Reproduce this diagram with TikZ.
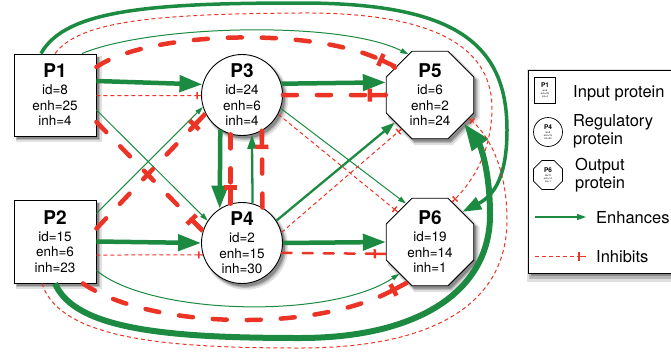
\documentclass[tikz,border=0pt]{standalone}
\usepackage{fontspec}
\setmainfont{TeX Gyre Heros}
\usetikzlibrary{shapes.geometric,arrows.meta,decorations.markings,shadows}
\definecolor{eg}{RGB}{28,138,64}
\definecolor{ir}{RGB}{236,52,38}
\newcommand{\prottitle}[1]{{\fontsize{19}{19}\selectfont\bfseries #1}}
\newcommand{\minititle}[1]{{\fontsize{6.5}{6.5}\selectfont\bfseries #1}}
\tikzset{
  softshadow/.style={drop shadow={shadow xshift=3.5pt,shadow yshift=-4pt,opacity=0.12,fill=black,shadow scale=1.05},
                     drop shadow={shadow xshift=3pt,shadow yshift=-3.5pt,opacity=0.18,fill=black,shadow scale=1.02},
                     drop shadow={shadow xshift=2.5pt,shadow yshift=-3pt,opacity=0.25,fill=black}},
  protbase/.style={draw=black,line width=0.9pt,fill=white,inner sep=0pt,align=center},
  prot/.style={protbase,font=\fontsize{13.5}{15.5}\selectfont,softshadow},
  inp/.style={prot,rectangle,minimum width=82pt,minimum height=82pt},
  reg/.style={prot,circle,minimum size=81pt},
  outp/.style={prot,regular polygon,regular polygon sides=8,minimum size=92pt},
  mini/.style={protbase,line width=0.7pt,font=\fontsize{2.4}{3.2}\selectfont},
  legtxt/.style={inner sep=0pt,font=\fontsize{16.5}{18}\selectfont},
  legbox/.style={draw=black,line width=1pt,fill=white,softshadow},
  teemark/.style n args={4}{postaction={decorate,decoration={markings,
     mark=at position -#1 with {\draw[draw=ir,solid,line cap=butt,line width=#3] (0pt,-#2) -- (0pt,#2);
                                \draw[draw=ir,solid,line cap=butt,line width=#4] (0pt,0pt) -- (#1,0pt);}}}},
  enhA/.style={draw=eg,line width=1pt,-{Triangle[length=8pt,width=5pt]}},
  enhB/.style={draw=eg,line width=2.3pt,-{Triangle[length=14pt,width=9pt]}},
  enhC/.style={draw=eg,line width=3.5pt,-{Triangle[length=19pt,width=13pt]}},
  enhD/.style={draw=eg,line width=4.5pt,-{Triangle[length=23pt,width=16pt]}},
  enhE/.style={draw=eg,line width=6pt,-{Triangle[length=27pt,width=19pt]}},
  inhA/.style={draw=ir,line width=1pt,dash pattern=on 4pt off 3pt,teemark={4pt}{3.5pt}{1.4pt}{1pt}},
  inhB/.style={draw=ir,line width=2.5pt,line cap=round,dash pattern=on 10pt off 11pt,teemark={11pt}{4.5pt}{2.5pt}{2.5pt}},
  inhD/.style={draw=ir,line width=4.5pt,line cap=round,dash pattern=on 14pt off 20pt,teemark={16pt}{6.5pt}{4.5pt}{4.5pt}},
  inhL/.style={draw=ir,line width=1pt,dash pattern=on 4pt off 3pt,teemark={7pt}{4.5pt}{1.4pt}{1pt}},
}
\begin{document}
\begin{tikzpicture}[x=1pt,y=-1pt]
\useasboundingbox (0,0) rectangle (671,354);
\clip (0,0) rectangle (671,354);

% legend frame
\draw[legbox] (528,70) rectangle (700,273);

% proteins
\node[inp] (p1) at (55,95) {\prottitle{P1}\\[1.5pt]id=8\\enh=25\\inh=4};
\node[inp,minimum height=83pt] (p2) at (55,241.5) {\prottitle{P2}\\[1.5pt]id=15\\enh=6\\inh=23};
\node[reg] (p3) at (242,95) {\prottitle{P3}\\[1.5pt]id=24\\enh=6\\inh=4};
\node[reg] (p4) at (242,243) {\prottitle{P4}\\[1.5pt]id=2\\enh=15\\inh=30};
\node[outp] (p5) at (430,95) {\prottitle{P5}\\[1.5pt]id=6\\enh=2\\inh=24};
\node[outp] (p6) at (430,242) {\prottitle{P6}\\[1.5pt]id=19\\enh=14\\inh=1};

% from P1
\draw[enhD] ([yshift=14pt]p1.east) -- (p3.165);
\draw[inhA] ([yshift=-0.5pt]p1.east) -- (p3.181);
\draw[enhA] ([yshift=-15pt]p1.east) -- (p4.147);
\draw[inhD] ([yshift=-27pt]p1.east) -- (p4.163);
\draw[enhA] ([xshift=27pt]p1.north) .. controls (150,25) and (340,20) .. (p5.118);
\draw[inhD] ([yshift=28pt]p1.east) .. controls (150,30) and (330,25) .. (p5.142);
\draw[enhC] ([xshift=-14pt]p1.north) .. controls (65,10) and (150,3) .. (300,3)
   .. controls (450,3) and (507,40) .. (507,130)
   .. controls (507,175) and (495,195) .. (p6.43);
\draw[inhA] (p1.north) .. controls (80,20) and (160,14) .. (300,13)
   .. controls (440,12) and (493,50) .. (492,110)
   .. controls (491,150) and (475,180) .. (p6.61);

% from P2
\draw[enhA] ([yshift=28pt]p2.east) -- (p3.197);
\draw[inhD] ([yshift=13pt]p2.east) -- (p3.207);
\draw[enhD] (p2.east) -- (p4.west);
\draw[inhA] ([yshift=-13.5pt]p2.east) -- (p4.197);
\draw[enhA] ([yshift=-29pt]p2.east) .. controls (150,315) and (330,320) .. (p6.226);
\draw[inhD] ([xshift=28pt]p2.south) .. controls (150,330) and (330,335) .. (p6.240);
\draw[enhE] (p2.south) .. controls (75,330) and (170,338) .. (300,338)
   .. controls (420,338) and (490,290) .. (490,215)
   .. controls (490,170) and (480,145) .. (p5.-40);
\draw[inhA] ([xshift=-13pt]p2.south) .. controls (60,340) and (170,348) .. (300,348)
   .. controls (440,348) and (507,300) .. (507,220)
   .. controls (507,170) and (490,135) .. (p5.-31);

% between P3 and P4
\draw[enhD] (p3.238) -- (p4.123);
\draw[inhD] (p3.254) -- (p4.106);
\draw[enhB] (p4.75) -- (p3.-76);
\draw[inhD] (p4.60) -- (p3.-61);

% from P3
\draw[enhD] (p3.16) -- (p5.164);
\draw[inhD] (p3.east) -- (p5.west);
\draw[enhA] (p3.-19) -- (p6.122);
\draw[inhA] (p3.-28) -- (p6.137);

% from P4
\draw[enhB] (p4.33) -- (p5.218);
\draw[inhA] (p4.15) -- (p5.230);
\draw[enhD] (p4.east) -- (p6.west);
\draw[inhB] (p4.-14) -- (p6.195);

% legend
\node[mini,rectangle,minimum width=21pt,minimum height=26pt] (l1) at (545,90) {\minititle{P1}\\[0.6pt]id=8\\enh=25\\inh=4};
\node[mini,circle,minimum size=29pt] (l2) at (548,132) {\minititle{P4}\\[0.6pt]id=2\\enh=15\\inh=30};
\node[mini,regular polygon,regular polygon sides=8,minimum size=31.5pt] (l3) at (548,175) {\minititle{P6}\\[0.6pt]id=19\\enh=14\\inh=1};
\node[legtxt,anchor=base west] (t1) at (573,97) {Input protein};
\node[legtxt,anchor=west,align=left] (t2) at (573,131.5) {Regulatory\\protein};
\node[legtxt,anchor=west,align=left] (t3) at (575,175.5) {Output\\protein};
\node[legtxt,anchor=base west] (t4) at (596,223) {Enhances};
\node[legtxt,anchor=base west] (t5) at (596,262) {Inhibits};
\coordinate (e1) at (535,217);
\coordinate (e2) at (586,217);
\coordinate (i1) at (535,256);
\coordinate (i2) at (586,256);
\draw[draw=eg,line width=1.1pt,-{Triangle[length=9pt,width=6pt]}] (e1) -- (e2);
\draw[inhL] (i1) -- (i2);
\end{tikzpicture}
\end{document}
